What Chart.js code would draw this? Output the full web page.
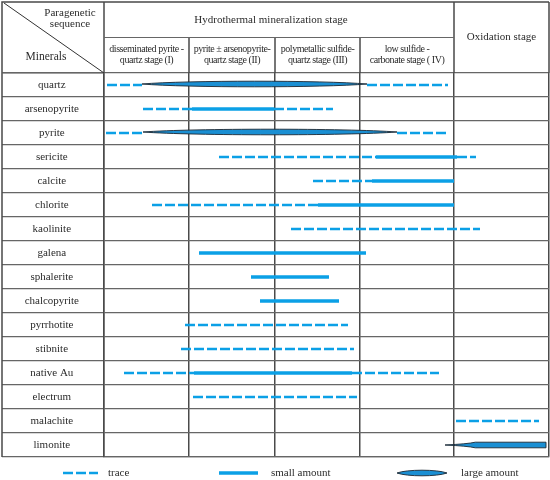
<!DOCTYPE html>
<html>
<head>
<meta charset="utf-8">
<script src="https://cdn.jsdelivr.net/npm/chart.js@4.4.1/dist/chart.umd.min.js"></script>
<style>
  html, body { margin: 0; padding: 0; background: #fff; }
</style>
</head>
<body>
<canvas id="chart" width="550" height="480"></canvas>
<script>
const minerals = ['quartz', 'arsenopyrite', 'pyrite', 'sericite', 'calcite', 'chlorite', 'kaolinite', 'galena',
  'sphalerite', 'chalcopyrite', 'pyrrhotite', 'stibnite', 'native Au', 'electrum', 'malachite', 'limonite'];

const stageLabels = [
  ['disseminated pyrite -', 'quartz stage (I)'],
  ['pyrite \u00b1 arsenopyrite-', 'quartz stage (II)'],
  ['polymetallic sulfide-', 'quartz stage (III)'],
  ['low sulfide -', 'carbonate stage ( IV)'],
  ['Oxidation stage']
];
const groupLabel = 'Hydrothermal mineralization stage';

// relative time, stage boundaries
const stageEdges = [0, 85, 171, 256, 350, 445];

// [mineral, start, end]
const traceSpans = [
  ['quartz', 3, 38], ['quartz', 263, 344],
  ['arsenopyrite', 39, 88], ['arsenopyrite', 170, 229],
  ['pyrite', 2, 39], ['pyrite', 293, 343],
  ['sericite', 115, 272], ['sericite', 353, 372],
  ['calcite', 209, 268],
  ['chlorite', 48, 214],
  ['kaolinite', 187, 376],
  ['pyrrhotite', 81, 244],
  ['stibnite', 77, 250],
  ['native Au', 20, 90], ['native Au', 248, 335],
  ['electrum', 89, 253],
  ['malachite', 352, 435]
];
const smallSpans = [
  ['arsenopyrite', 88, 170],
  ['sericite', 272, 353],
  ['calcite', 268, 350],
  ['chlorite', 214, 350],
  ['galena', 95, 262],
  ['sphalerite', 147, 225],
  ['chalcopyrite', 156, 235],
  ['native Au', 90, 248]
];
const largeSpans = [
  ['quartz', 38, 263],
  ['pyrite', 39, 293]
];
const taperSpans = [
  ['limonite', 341, 442]
];
const legendLabels = ['trace', 'small amount', 'large amount'];

const BLUE = '#0ba0e6';
const LENS = '#1a8fd3';
const INK = '#2b2b2b';
const SERIF = '"Liberation Serif", "DejaVu Serif", serif';

const spanSet = (span, dashed) => ({
  data: [{ x: span[1], y: span[0] }, { x: span[2], y: span[0] }],
  showLine: true,
  borderColor: BLUE,
  borderWidth: dashed ? 2.3 : 3.6,
  borderDash: dashed ? [10, 3] : [],
  borderCapStyle: 'butt',
  pointRadius: 0,
  fill: false
});

function lens(ctx, x1, x2, y, h, k) {
  const L = x2 - x1, c = h * 4 / 3;
  ctx.beginPath();
  ctx.moveTo(x1, y);
  ctx.bezierCurveTo(x1 + L * k, y - c, x2 - L * k, y - c, x2, y);
  ctx.bezierCurveTo(x2 - L * k, y + c, x1 + L * k, y + c, x1, y);
  ctx.closePath();
  ctx.fillStyle = LENS;
  ctx.fill();
  ctx.strokeStyle = '#1c2833';
  ctx.lineWidth = 0.9;
  ctx.stroke();
}

const paragenesis = {
  id: 'paragenesis',
  beforeDraw(chart) {
    const ctx = chart.ctx;
    ctx.save();
    ctx.fillStyle = '#fff';
    ctx.fillRect(0, 0, chart.width, chart.height);
    ctx.restore();
  },
  afterDatasetsDraw(chart) {
    const ctx = chart.ctx;
    const xs = chart.scales.x, ys = chart.scales.y;
    ctx.save();
    largeSpans.forEach(s => {
      lens(ctx, xs.getPixelForValue(s[1]), xs.getPixelForValue(s[2]),
        ys.getPixelForValue(minerals.indexOf(s[0])) - 1, 2.8, 0.2);
    });
    taperSpans.forEach(s => {
      const x1 = xs.getPixelForValue(s[1]), x2 = xs.getPixelForValue(s[2]);
      const y = ys.getPixelForValue(minerals.indexOf(s[0]));
      const xk = x1 + (x2 - x1) * 0.3, h = 2.8;
      ctx.beginPath();
      ctx.moveTo(x1, y);
      ctx.quadraticCurveTo(xk - 8, y - 1, xk, y - h);
      ctx.lineTo(x2, y - h);
      ctx.lineTo(x2, y + h);
      ctx.lineTo(xk, y + h);
      ctx.quadraticCurveTo(xk - 8, y + 1, x1, y);
      ctx.closePath();
      ctx.fillStyle = LENS;
      ctx.fill();
      ctx.strokeStyle = '#1c2833';
      ctx.lineWidth = 0.9;
      ctx.stroke();
    });
    ctx.restore();
  },
  afterDraw(chart) {
    const ctx = chart.ctx;
    const { left, right, top, bottom } = chart.chartArea;
    const xs = chart.scales.x;
    const edges = stageEdges.map(v => xs.getPixelForValue(v));
    const outerL = 2, outerT = 2;
    const midY = (outerT + top) / 2;
    ctx.save();

    // header frame
    ctx.strokeStyle = '#4a4a4a';
    ctx.lineWidth = 1.5;
    ctx.beginPath();
    ctx.moveTo(outerL, bottom); ctx.lineTo(outerL, outerT); ctx.lineTo(right, outerT);
    ctx.moveTo(left, outerT); ctx.lineTo(left, top);
    ctx.moveTo(edges[4], outerT); ctx.lineTo(edges[4], top);
    ctx.moveTo(right, outerT); ctx.lineTo(right, top);
    for (let i = 1; i < 4; i++) { ctx.moveTo(edges[i], midY); ctx.lineTo(edges[i], top); }
    ctx.stroke();
    ctx.strokeStyle = '#666';
    ctx.lineWidth = 1.2;
    ctx.beginPath();
    ctx.moveTo(edges[0], midY); ctx.lineTo(edges[4], midY);
    ctx.moveTo(outerL, top); ctx.lineTo(left, top);
    ctx.stroke();
    ctx.lineWidth = 1;
    ctx.strokeStyle = '#333';
    ctx.beginPath();
    ctx.moveTo(outerL + 2, outerT + 1); ctx.lineTo(left, top);
    ctx.stroke();

    // header text
    ctx.fillStyle = INK;
    ctx.textAlign = 'center';
    ctx.textBaseline = 'middle';
    ctx.font = '11px ' + SERIF;
    ctx.fillText('Paragenetic', 70, 13);
    ctx.fillText('sequence', 70, 24);
    ctx.font = '11.5px ' + SERIF;
    ctx.fillText('Minerals', 46, 57);
    ctx.font = '11px ' + SERIF;
    ctx.fillText(groupLabel, (edges[0] + edges[4]) / 2 - 8, (outerT + midY) / 2);
    ctx.fillText(stageLabels[4][0], (edges[4] + edges[5]) / 2, (outerT + top) / 2);
    ctx.font = '10px ' + SERIF;
    ctx.letterSpacing = '-0.45px';
    for (let i = 0; i < 4; i++) {
      const cx = (edges[i] + edges[i + 1]) / 2;
      const cy = (midY + top) / 2;
      ctx.fillText(stageLabels[i][0], cx, cy - 5.5);
      ctx.fillText(stageLabels[i][1], cx, cy + 5.5);
    }
    ctx.letterSpacing = '0px';

    // legend
    const ly = bottom + 16;
    ctx.strokeStyle = BLUE;
    ctx.lineWidth = 2.3;
    ctx.setLineDash([10, 3]);
    ctx.beginPath(); ctx.moveTo(63, ly); ctx.lineTo(98, ly); ctx.stroke();
    ctx.setLineDash([]);
    ctx.lineWidth = 3.6;
    ctx.beginPath(); ctx.moveTo(219, ly); ctx.lineTo(258, ly); ctx.stroke();
    lens(ctx, 397, 447, ly, 2.8, 0.2);
    ctx.fillStyle = INK;
    ctx.textAlign = 'left';
    ctx.font = '11px ' + SERIF;
    ctx.fillText(legendLabels[0], 108, ly);
    ctx.fillText(legendLabels[1], 271, ly);
    ctx.fillText(legendLabels[2], 461, ly);
    ctx.restore();
  }
};

new Chart(document.getElementById('chart'), {
  type: 'scatter',
  data: {
    datasets: [
      ...traceSpans.map(s => spanSet(s, true)),
      ...smallSpans.map(s => spanSet(s, false))
    ]
  },
  options: {
    responsive: false,
    animation: false,
    devicePixelRatio: 1,
    layout: { padding: { left: 2, top: 73, right: 1, bottom: 23 } },
    plugins: { legend: { display: false }, tooltip: { enabled: false } },
    scales: {
      x: {
        type: 'linear', min: 0, max: 445,
        afterBuildTicks: s => { s.ticks = stageEdges.map(v => ({ value: v })); },
        ticks: { display: false },
        grid: { color: '#4a4a4a', lineWidth: 1.5, drawTicks: false },
        border: { color: '#666', width: 1.2 }
      },
      y: {
        type: 'category', labels: minerals, offset: true,
        grid: { offset: true, color: '#666', lineWidth: 1.2, drawTicks: true, tickLength: 102 },
        border: { color: '#4a4a4a', width: 1.5 },
        ticks: { crossAlign: 'center', padding: -77, autoSkip: false, color: INK, font: { family: SERIF, size: 11 } },
        afterFit: s => { s.width = 102; }
      }
    }
  },
  plugins: [paragenesis]
});
</script>
</body>
</html>
